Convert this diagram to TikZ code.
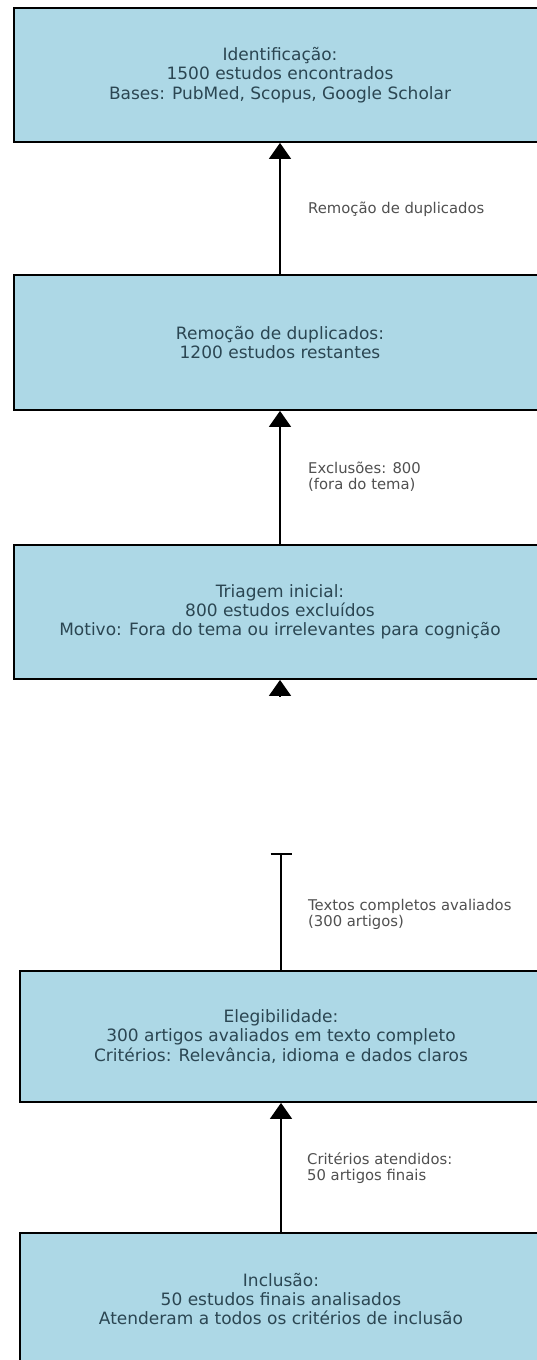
\documentclass[tikz,border=0pt]{standalone}
\usepackage{fontspec}
\setmainfont{DejaVu Sans}
\usetikzlibrary{arrows.meta}
\definecolor{boxfill}{HTML}{ADD8E6}
\definecolor{boxtext}{HTML}{2B4652}
\definecolor{labeltext}{HTML}{505050}
\tikzset{
  stage/.style={draw=black, line width=1.8pt, fill=boxfill, text=boxtext, align=center,
    font=\fontsize{17}{19.2}\selectfont, inner sep=0pt},
  lbl/.style={text=labeltext, align=left, anchor=west, font=\fontsize{14.8}{16}\selectfont, inner sep=0pt},
  conn/.style={line width=1.6pt, -{Triangle[width=22pt,length=16pt]}},
  plain/.style={line width=1.6pt}
}
\begin{document}
\begin{tikzpicture}[x=1pt,y=1pt]
\useasboundingbox (0,0) rectangle (537,-1360);
\fill[white] (0,0) rectangle (537,-1360);
\clip (0,0) rectangle (537,-1360);
\node[stage, minimum width=532pt, minimum height=134pt] (b1) at (280,-75)
  {Identificação:\\1500 estudos encontrados\\Bases: PubMed, Scopus, Google Scholar};
\node[stage, minimum width=532pt, minimum height=135pt] (b2) at (280,-342.5)
  {Remoção de duplicados:\\1200 estudos restantes};
\node[stage, minimum width=532pt, minimum height=134pt] (b3) at (280,-612)
  {Triagem inicial:\\800 estudos excluídos\\Motivo: Fora do tema ou irrelevantes para cognição};
\node[stage, minimum width=522pt, minimum height=131pt] (b4) at (281,-1036.5)
  {Elegibilidade:\\300 artigos avaliados em texto completo\\Critérios: Relevância, idioma e dados claros};
\node[stage, minimum width=522pt, minimum height=132pt] (b5) at (281,-1299)
  {Inclusão:\\50 estudos finais analisados\\Atenderam a todos os critérios de inclusão};

\coordinate (hs) at (280,-697);
\coordinate (cut) at (281,-854);
\coordinate (cutl) at (270.5,-854);
\coordinate (cutr) at (291.5,-854);

\draw[conn] (b2.north -| b1.south) -- (b1.south);
\draw[conn] (b3.north) -- (b2.south);
\draw[conn] (hs) -- (b3.south);
\draw[plain] (b4.north) -- (cut);
\draw[plain] (cutl) -- (cutr);
\draw[conn] (b5.north) -- (b4.south);

\node[lbl] (l1) at (308,-209) {Remoção de duplicados};
\node[lbl] (l2) at (308,-477) {Exclusões: 800\\(fora do tema)};
\node[lbl] (l3) at (308,-914) {Textos completos avaliados\\(300 artigos)};
\node[lbl] (l4) at (307,-1168) {Critérios atendidos:\\50 artigos finais};
\end{tikzpicture}
\end{document}
